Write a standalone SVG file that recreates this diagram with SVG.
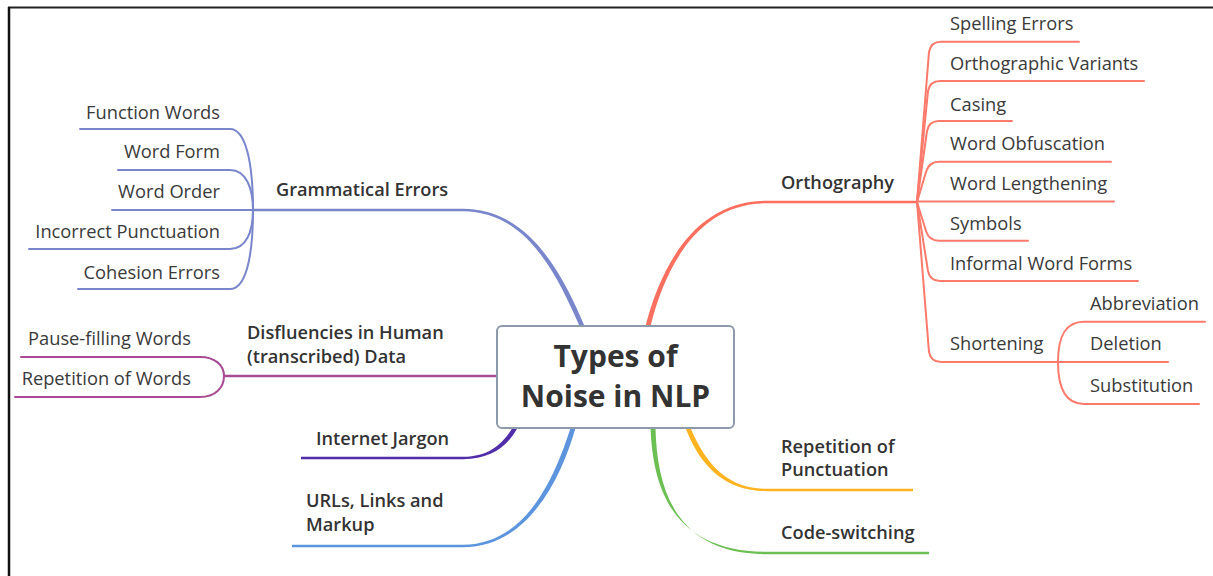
<svg xmlns="http://www.w3.org/2000/svg" width="1213" height="576" viewBox="0 0 1213 576">
  <style>
    .lbl { font-family: "Open Sans", "Liberation Sans", sans-serif; font-size: 18.3px; fill: #3a3a3a; }
    .main { font-family: "Open Sans", "Liberation Sans", sans-serif; font-size: 18.2px; font-weight: 600; fill: #333; }
    .title { font-family: "Open Sans", "Liberation Sans", sans-serif; font-size: 30px; font-weight: 700; fill: #333; }
    .end { text-anchor: end; }
    .sub { fill: none; stroke-width: 2; stroke-linecap: round; }
    .bar { fill: none; stroke-width: 2.4; }
    .gram { stroke: #7986cb; }
    .orth { stroke: #fb7a6b; }
    .disf { stroke: #a84b93; }
  </style>

  <!-- frame -->
  <line x1="8" y1="7.5" x2="1213" y2="7.5" stroke="#222" stroke-width="2"/>
  <line x1="9" y1="7" x2="9" y2="576" stroke="#111" stroke-width="2.5"/>

  <g id="connectors">
    <!-- main branches (tapered) -->
    <path fill="#7986cb" d="M463,208.8 C531,208.8 564.5,279 584.5,326 L579.5,326 C559.5,281 529,211.2 463,211.2 Z"/>
    <line class="bar gram" x1="253" y1="210" x2="463" y2="210"/>

    <path fill="#fb6f5e" d="M645.5,326 C663,259 699,200.8 767,200.8 L767,203.2 C701,203.2 667,261 650.5,326 Z"/>
    <line class="bar" stroke="#fb6f5e" x1="767" y1="202" x2="917" y2="202"/>

    <line class="bar disf" x1="224" y1="376" x2="498" y2="376"/>

    <path fill="#512da8" d="M463,456.8 C490,456.8 503,443 512.5,428 L517.5,428 C507,447 490,459.2 463,459.2 Z"/>
    <line class="bar" stroke="#512da8" x1="301" y1="458" x2="463" y2="458"/>

    <path fill="#5c95de" d="M463,544.8 C529,544.8 557,470 570.5,428 L575.5,428 C563,472 531,547.2 463,547.2 Z"/>
    <line class="bar" stroke="#5c95de" x1="292" y1="546" x2="463" y2="546"/>

    <path fill="#6cbf52" d="M650.5,428 C653,490 674,551.8 767,551.8 L767,554.2 C676,554.2 657,490 655.5,428 Z"/>
    <line class="bar" stroke="#6cbf52" x1="767" y1="553" x2="929" y2="553"/>

    <path fill="#fdb420" d="M685.5,428 C702,471 729,491.2 767,491.2 L767,488.8 C731,488.8 708,469 690.5,428 Z"/>
    <line class="bar" stroke="#fdb420" x1="767" y1="490" x2="913" y2="490"/>

    <!-- Grammatical Errors children -->
    <path class="sub gram" d="M253,210 C253,160 245,129 230,129 L80,129"/>
    <path class="sub gram" d="M253,210 C253,188 246,170 230,170 L118,170"/>
    <path class="sub gram" d="M253,210 L112,210"/>
    <path class="sub gram" d="M253,210 C253,232 246,249 230,249 L29,249"/>
    <path class="sub gram" d="M253,210 C253,260 245,289 230,289 L78,289"/>

    <!-- Disfluencies children -->
    <path class="sub disf" d="M224,376 C224,365 215,357 200,357 L21,357"/>
    <path class="sub disf" d="M224,376 C224,388 215,397 200,397 L15,397"/>

    <!-- Orthography children -->
    <path class="sub orth" d="M917,202 L929,52 Q931,41.7 941,41.7 L1079,41.7"/>
    <path class="sub orth" d="M917,202 L928,91 Q930,81 940,81 L1144,81"/>
    <path class="sub orth" d="M917,202 L927,131 Q929,121 939,121 L1012,121"/>
    <path class="sub orth" d="M917,202 L926,172 Q929,161.7 939,161.7 L1111,161.7"/>
    <path class="sub orth" d="M917,201.5 L1114,201.5"/>
    <path class="sub orth" d="M917,202 L926,231 Q929,240.7 939,240.7 L1028,240.7"/>
    <path class="sub orth" d="M917,202 L928,271 Q930,281 940,281 L1138,281"/>
    <path class="sub orth" d="M917,202 L929,352 Q931,362 941,362 L1058,362"/>

    <!-- Shortening children -->
    <path class="sub orth" d="M1058,362 C1058,335 1066,321.7 1084,321.7 L1205,321.7"/>
    <path class="sub orth" d="M1058,362 L1168,362"/>
    <path class="sub orth" d="M1058,362 C1058,390 1066,404 1084,404 L1199,404"/>
  </g>

  <g id="root">
    <rect x="497" y="326" width="237" height="102" rx="5" fill="#fff" stroke="#8d9aab" stroke-width="2"/>
    <text class="title" x="615.5" y="367" text-anchor="middle">Types of</text>
    <text class="title" x="615.5" y="407" text-anchor="middle">Noise in NLP</text>
  </g>

  <g id="grammatical-errors">
    <text class="main" x="276" y="196">Grammatical Errors</text>
  </g>
  <g id="function-words"><text class="lbl end" x="220" y="119">Function Words</text></g>
  <g id="word-form"><text class="lbl end" x="220" y="158">Word Form</text></g>
  <g id="word-order"><text class="lbl end" x="220" y="198">Word Order</text></g>
  <g id="incorrect-punctuation"><text class="lbl end" x="220" y="238">Incorrect Punctuation</text></g>
  <g id="cohesion-errors"><text class="lbl end" x="220" y="279">Cohesion Errors</text></g>

  <g id="disfluencies">
    <text class="main" x="247" y="339">Disfluencies in Human</text>
    <text class="main" x="247" y="363">(transcribed) Data</text>
  </g>
  <g id="pause-filling-words"><text class="lbl end" x="191" y="344.5">Pause-filling Words</text></g>
  <g id="repetition-of-words"><text class="lbl end" x="191" y="384.5">Repetition of Words</text></g>

  <g id="internet-jargon"><text class="main" x="316" y="445">Internet Jargon</text></g>
  <g id="urls-links-markup">
    <text class="main" x="306" y="506.5">URLs, Links and</text>
    <text class="main" x="306" y="531">Markup</text>
  </g>

  <g id="repetition-of-punctuation">
    <text class="main" x="781" y="453">Repetition of</text>
    <text class="main" x="781" y="476">Punctuation</text>
  </g>
  <g id="code-switching"><text class="main" x="781" y="539">Code-switching</text></g>

  <g id="orthography"><text class="main" x="781" y="189">Orthography</text></g>
  <g id="spelling-errors"><text class="lbl" x="950" y="30">Spelling Errors</text></g>
  <g id="orthographic-variants"><text class="lbl" x="950" y="70">Orthographic Variants</text></g>
  <g id="casing"><text class="lbl" x="950" y="111">Casing</text></g>
  <g id="word-obfuscation"><text class="lbl" x="950" y="150">Word Obfuscation</text></g>
  <g id="word-lengthening"><text class="lbl" x="950" y="190">Word Lengthening</text></g>
  <g id="symbols"><text class="lbl" x="950" y="230">Symbols</text></g>
  <g id="informal-word-forms"><text class="lbl" x="950" y="270">Informal Word Forms</text></g>
  <g id="shortening"><text class="lbl" x="950" y="350">Shortening</text></g>
  <g id="abbreviation"><text class="lbl" x="1090" y="310">Abbreviation</text></g>
  <g id="deletion"><text class="lbl" x="1090" y="350">Deletion</text></g>
  <g id="substitution"><text class="lbl" x="1090" y="392">Substitution</text></g>
</svg>
